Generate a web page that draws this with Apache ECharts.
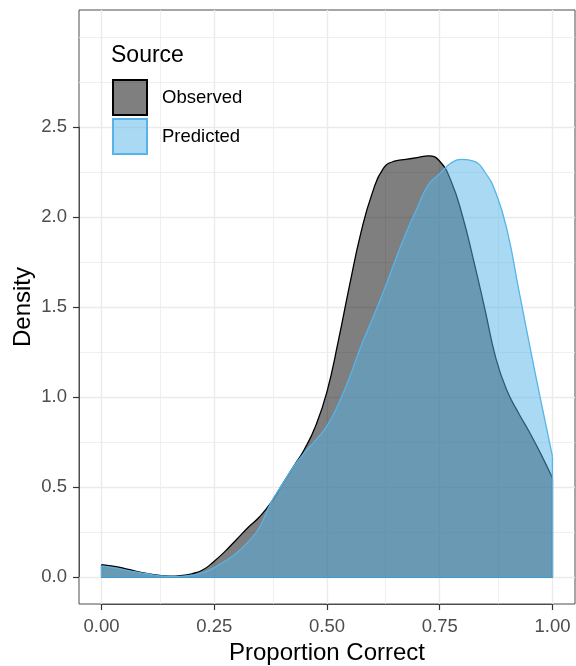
<!DOCTYPE html>
<html>
<head>
<meta charset="utf-8">
<script src="https://cdn.jsdelivr.net/npm/echarts@6/dist/echarts.min.js"></script>
<style>
  html, body { margin: 0; padding: 0; background: #fff; }
  #chart { width: 576px; height: 666px; }
</style>
</head>
<body>
<div id="chart"></div>
<script>
// Evaluation points of the kernel density estimates (proportion correct)
const proportion = [
  0.000, 0.025, 0.050, 0.075, 0.100, 0.125, 0.150, 0.175, 0.200, 0.225,
  0.250, 0.275, 0.300, 0.325, 0.350, 0.375, 0.400, 0.425, 0.450, 0.475,
  0.500, 0.525, 0.550, 0.575, 0.600, 0.625, 0.650, 0.675, 0.700, 0.725,
  0.750, 0.775, 0.800, 0.825, 0.850, 0.875, 0.900, 0.925, 0.950, 0.975, 1.000
];

// Density of observed proportions
const observedDensity = [
  0.068, 0.060, 0.048, 0.033, 0.020, 0.010, 0.005, 0.008, 0.018, 0.040,
  0.088, 0.145, 0.210, 0.275, 0.333, 0.410, 0.510, 0.610, 0.710, 0.840,
  1.030, 1.310, 1.620, 1.910, 2.130, 2.270, 2.310, 2.320, 2.330, 2.340,
  2.310, 2.200, 2.010, 1.760, 1.490, 1.210, 1.030, 0.910, 0.800, 0.680, 0.550
];

// Density of model-predicted proportions
const predictedDensity = [
  0.062, 0.052, 0.040, 0.028, 0.018, 0.008, 0.003, 0.004, 0.010, 0.024,
  0.052, 0.090, 0.135, 0.195, 0.275, 0.410, 0.510, 0.610, 0.690, 0.760,
  0.840, 0.960, 1.110, 1.280, 1.430, 1.585, 1.750, 1.910, 2.050, 2.180,
  2.240, 2.300, 2.320, 2.310, 2.250, 2.130, 1.920, 1.600, 1.280, 0.970, 0.670
];

const sourceNames = ['Observed', 'Predicted'];

// Axis breaks
const xMajorTicks = [0, 0.25, 0.5, 0.75, 1];
const xMinorTicks = [0.125, 0.375, 0.625, 0.875];
const yMajorTicks = [0, 0.5, 1, 1.5, 2, 2.5];
const yMinorTicks = [0.25, 0.75, 1.25, 1.75, 2.25, 2.75, 3];

const FONT = '"Liberation Sans", Arial, sans-serif';
const obsFill = 'rgba(0,0,0,0.5)';
const obsLine = '#000000';
const predFill = 'rgba(86,180,233,0.5)';
const predLine = '#56B4E9';
const frameColor = '#4d4d4d';
const tickColor = '#333333';

// Panel layout and data limits (5% padding around the data range)
const W = 576, H = 666;
const panel = { left: 79, right: 1, top: 10, bottom: 62 };
const xLim = [-0.05, 1.05];
const yLim = [-0.15, 3.15];
const plotW = W - panel.left - panel.right;
const plotH = H - panel.top - panel.bottom;
const xPix = v => panel.left + (v - xLim[0]) / (xLim[1] - xLim[0]) * plotW;
const yPix = v => panel.top + (yLim[1] - v) / (yLim[1] - yLim[0]) * plotH;

const xBreakMin = xMajorTicks[0], xBreakMax = xMajorTicks[xMajorTicks.length - 1];
const yBreakMin = yMajorTicks[0], yBreakMax = yMajorTicks[yMajorTicks.length - 1];

const pairs = (xs, ys) => xs.map((x, i) => [x, ys[i]]);
// Closing outline: vertical edges at both ends and the baseline
const edges = (xs, ys) => {
  const n = xs.length - 1;
  return [[xs[0], ys[0]], [xs[0], 0], [xs[n], 0], [xs[n], ys[n]]];
};

const gridLines = [];
xMajorTicks.forEach(v => gridLines.push({ xAxis: v, lineStyle: { width: 1.4 } }));
xMinorTicks.forEach(v => gridLines.push({ xAxis: v, lineStyle: { width: 0.8 } }));
yMajorTicks.forEach(v => gridLines.push({ yAxis: v, lineStyle: { width: 1.4 } }));
yMinorTicks.forEach(v => gridLines.push({ yAxis: v, lineStyle: { width: 0.8 } }));

const labelStyle = { fontFamily: FONT, fontSize: 18.5, color: '#4d4d4d' };
const tickStyle = { show: true, length: 6, inside: false, lineStyle: { color: tickColor, width: 1.2 } };
const hiddenAxis = { type: 'value', show: false };

const chart = echarts.init(document.getElementById('chart'), null, { renderer: 'canvas' });

chart.setOption({
  animation: false,
  backgroundColor: '#ffffff',
  textStyle: { fontFamily: FONT },
  title: {
    text: 'Source',
    left: 111,
    top: 44,
    padding: 0,
    textStyle: { fontFamily: FONT, fontSize: 23, fontWeight: 'normal', color: '#000000' }
  },
  legend: {
    orient: 'vertical',
    left: 112,
    top: 79,
    padding: 0,
    itemGap: 2,
    itemWidth: 34,
    itemHeight: 35,
    selectedMode: false,
    textStyle: { fontFamily: FONT, fontSize: 18.5, color: '#000000', padding: [0, 0, 0, 10] },
    data: [
      { name: sourceNames[0], icon: 'rect', itemStyle: { color: obsFill, borderColor: obsLine, borderWidth: 2 } },
      { name: sourceNames[1], icon: 'rect', itemStyle: { color: predFill, borderColor: predLine, borderWidth: 2 } }
    ]
  },
  grid: [
    {
      // data panel
      left: panel.left, right: panel.right, top: panel.top, bottom: panel.bottom,
      containLabel: false, outerBoundsMode: 'none',
      show: true, borderColor: frameColor, borderWidth: 1, backgroundColor: 'transparent'
    },
    {
      // spans the labelled x breaks, carries the x ticks and labels
      left: xPix(xBreakMin), right: W - xPix(xBreakMax), top: panel.top, bottom: panel.bottom,
      containLabel: false, outerBoundsMode: 'none', show: false
    },
    {
      // spans the labelled y breaks, carries the y ticks and labels
      left: panel.left, right: panel.right, top: yPix(yBreakMax), bottom: H - yPix(yBreakMin),
      containLabel: false, outerBoundsMode: 'none', show: false
    }
  ],
  xAxis: [
    {
      gridIndex: 0,
      type: 'value',
      min: xLim[0],
      max: xLim[1],
      name: 'Proportion Correct',
      nameLocation: 'middle',
      nameGap: 37,
      nameTextStyle: { fontFamily: FONT, fontSize: 24, color: '#000000' },
      axisLine: { show: false, onZero: false },
      axisTick: { show: false },
      axisLabel: { show: false },
      splitLine: { show: false }
    },
    {
      gridIndex: 1,
      type: 'value',
      min: xBreakMin,
      max: xBreakMax,
      interval: 0.25,
      position: 'bottom',
      axisLine: { show: true, onZero: false, lineStyle: { color: frameColor, width: 1 } },
      axisTick: tickStyle,
      axisLabel: Object.assign({ margin: 13, formatter: v => v.toFixed(2) }, labelStyle),
      splitLine: { show: false }
    },
    Object.assign({ gridIndex: 2 }, hiddenAxis)
  ],
  yAxis: [
    {
      gridIndex: 0,
      type: 'value',
      min: yLim[0],
      max: yLim[1],
      name: 'Density',
      nameLocation: 'middle',
      nameGap: 44,
      nameTextStyle: { fontFamily: FONT, fontSize: 24, color: '#000000' },
      axisLine: { show: false, onZero: false },
      axisTick: { show: false },
      axisLabel: { show: false },
      splitLine: { show: false }
    },
    Object.assign({ gridIndex: 1 }, hiddenAxis),
    {
      gridIndex: 2,
      type: 'value',
      min: yBreakMin,
      max: yBreakMax,
      interval: 0.5,
      position: 'left',
      axisLine: { show: true, onZero: false, lineStyle: { color: frameColor, width: 1 } },
      axisTick: tickStyle,
      axisLabel: Object.assign({ margin: 12, formatter: v => v.toFixed(1) }, labelStyle),
      splitLine: { show: false }
    }
  ],
  series: [
    {
      // panel grid lines, kept beneath the densities
      name: 'grid',
      type: 'line',
      xAxisIndex: 0,
      yAxisIndex: 0,
      data: [],
      z: 0,
      silent: true,
      markLine: {
        z: 0,
        silent: true,
        symbol: ['none', 'none'],
        label: { show: false },
        lineStyle: { color: '#ebebeb', type: 'solid' },
        emphasis: { disabled: true },
        data: gridLines
      }
    },
    {
      name: sourceNames[0],
      type: 'line',
      xAxisIndex: 0,
      yAxisIndex: 0,
      data: pairs(proportion, observedDensity),
      smooth: 0.5,
      showSymbol: false,
      z: 2,
      itemStyle: { color: obsFill, borderColor: obsLine, borderWidth: 2 },
      lineStyle: { color: obsLine, width: 1.3 },
      areaStyle: { color: obsFill, opacity: 1, origin: 0 }
    },
    {
      name: 'Observed edges',
      type: 'line',
      xAxisIndex: 0,
      yAxisIndex: 0,
      data: edges(proportion, observedDensity),
      showSymbol: false,
      z: 3,
      lineStyle: { color: obsLine, width: 1.3 }
    },
    {
      name: sourceNames[1],
      type: 'line',
      xAxisIndex: 0,
      yAxisIndex: 0,
      data: pairs(proportion, predictedDensity),
      smooth: 0.5,
      showSymbol: false,
      z: 4,
      itemStyle: { color: predFill, borderColor: predLine, borderWidth: 2 },
      lineStyle: { color: predLine, width: 1.3 },
      areaStyle: { color: predFill, opacity: 1, origin: 0 }
    },
    {
      name: 'Predicted edges',
      type: 'line',
      xAxisIndex: 0,
      yAxisIndex: 0,
      data: edges(proportion, predictedDensity),
      showSymbol: false,
      z: 5,
      lineStyle: { color: predLine, width: 1.3 }
    }
  ]
});
</script>
</body>
</html>
